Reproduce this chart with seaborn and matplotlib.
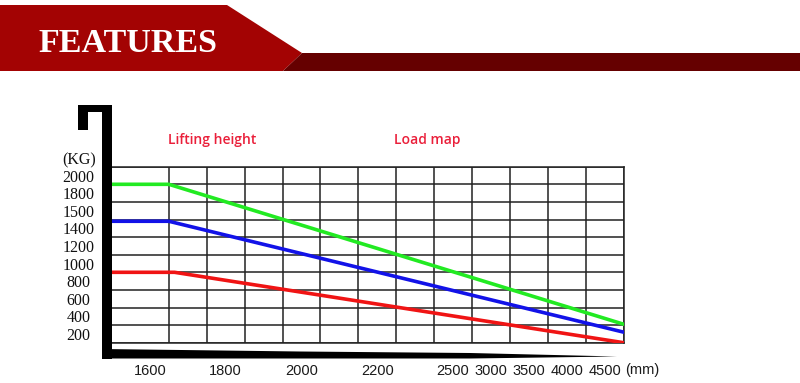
import numpy as np
import pandas as pd
import matplotlib.pyplot as plt
import seaborn as sns
from matplotlib.patches import Polygon

# load map: lifting height (mm) vs load (kg)
green_mm = [1500, 1650, 4750]
green_kg = [1900, 1900, 310]
blue_mm = [1500, 1650, 4750]
blue_kg = [1440, 1440, 220]
red_mm = [1500, 1665, 4750]
red_kg = [900, 900, 100]

x_ticks = [1600, 1800, 2000, 2200, 2500, 3000, 3500, 4000, 4500]
y_ticks = [200, 400, 600, 800, 1000, 1200, 1400, 1500, 1800, 2000]

# the chart is a drawn grid: labels sit in the middle of grid cells
x_cells = [-0.5, 1.5, 3.5, 5.5, 7.5, 8.5, 9.5, 10.5, 11.5]
y_cells = [0.5, 1.5, 2.5, 3.5, 4.5, 5.5, 6.5, 7.5, 8.5, 9.5]
x_knots = [1400] + x_ticks + [5000]
x_pos = [-2.5] + x_cells + [12.5]
y_knots = [0] + y_ticks + [2200]
y_pos = [-0.5] + y_cells + [10.5]

W, H = 800, 383

sns.set_style("white")
plt.rcParams["font.family"] = ["Liberation Sans", "DejaVu Sans"]

fig = plt.figure(figsize=(W / 100, H / 100), dpi=100)


def px(pts):
    return [(x / W, 1 - y / H) for x, y in pts]


def shape(pts, color):
    fig.add_artist(Polygon(px(pts), closed=True, transform=fig.transFigure,
                           facecolor=color, edgecolor="none", zorder=3))


# header banner
shape([(0, 5), (227, 5), (302, 53), (283, 71), (0, 71)], "#a30303")
shape([(302, 53), (800, 53), (800, 71), (283, 71)], "#650000")
fig.text(38 / W, 1 - 43 / H, "FEATURES", color="white", fontsize=24.5,
         fontweight="bold", family="Liberation Serif", va="center", ha="left")

# chart
ax = fig.add_axes([112 / W, 1 - 342.7 / H, 511.6 / W, 176 / H])

df = pd.concat([
    pd.DataFrame({"height": green_mm, "load": green_kg, "curve": "green"}),
    pd.DataFrame({"height": blue_mm, "load": blue_kg, "curve": "blue"}),
    pd.DataFrame({"height": red_mm, "load": red_kg, "curve": "red"}),
])
palette = {"green": "#22ea22", "blue": "#1212e8", "red": "#f01414"}
sns.lineplot(data=df, x="height", y="load", hue="curve", palette=palette,
             estimator=None, sort=False, lw=2.6, legend=False, ax=ax, zorder=3)

ax.set_xscale("function", functions=(lambda v: np.interp(v, x_knots, x_pos),
                                     lambda p: np.interp(p, x_pos, x_knots)))
ax.set_yscale("function", functions=(lambda v: np.interp(v, y_knots, y_pos),
                                     lambda p: np.interp(p, y_pos, y_knots)))
ax.set_xlim(1500, 4750)
ax.set_ylim(100, 2100)

ax.set_xticks(x_ticks)
ax.set_xticklabels([str(t) for t in x_ticks])
ax.set_yticks(y_ticks)
ax.set_yticklabels([str(t) for t in y_ticks])
ax.set_xticks(np.interp(np.arange(0, 13), x_pos, x_knots), minor=True)
ax.set_yticks(np.interp(np.arange(0, 11), y_pos, y_knots), minor=True)
ax.grid(which="major", visible=False)
ax.grid(which="minor", color="#222222", lw=1.1)
ax.tick_params(which="both", length=0)
ax.tick_params(axis="x", pad=15, labelsize=10.5, labelcolor="#1a1a1a")
ax.tick_params(axis="y", pad=24, labelsize=11.5, labelcolor="#111111")
for lab in ax.get_yticklabels():
    lab.set_family("Liberation Serif")
    lab.set_ha("center")
ax.set_xlabel("")
ax.set_ylabel("")
for side in ["top", "bottom", "right"]:
    ax.spines[side].set_color("#222222")
    ax.spines[side].set_linewidth(1.1)
ax.spines["left"].set_visible(False)

# thick black frame around the chart
shape([(102, 105), (112, 105), (112, 358.5), (102, 358.5)], "black")
shape([(78, 105), (112, 105), (112, 112), (88, 112), (88, 130), (78, 130)], "black")
shape([(102, 349), (300, 351.5), (470, 353), (617, 356.5), (470, 358.5),
       (102, 358.5)], "black")

fig.text(79 / W, 1 - 160 / H, "(KG)", family="Liberation Serif", fontsize=11.5,
         color="#111111", ha="center", va="center")
fig.text(625 / W, 1 - 370 / H, "(mm)", fontsize=10.5, color="#1a1a1a",
         ha="left", va="center")
fig.text(212 / W, 1 - 140 / H, "Lifting height", family="Open Sans",
         fontsize=10, fontweight="semibold", color="#ea1f3a",
         ha="center", va="center")
fig.text(427 / W, 1 - 140 / H, "Load map", family="Open Sans",
         fontsize=10, fontweight="semibold", color="#ea1f3a",
         ha="center", va="center")

fig.savefig("out.png", dpi=100, facecolor="white")
